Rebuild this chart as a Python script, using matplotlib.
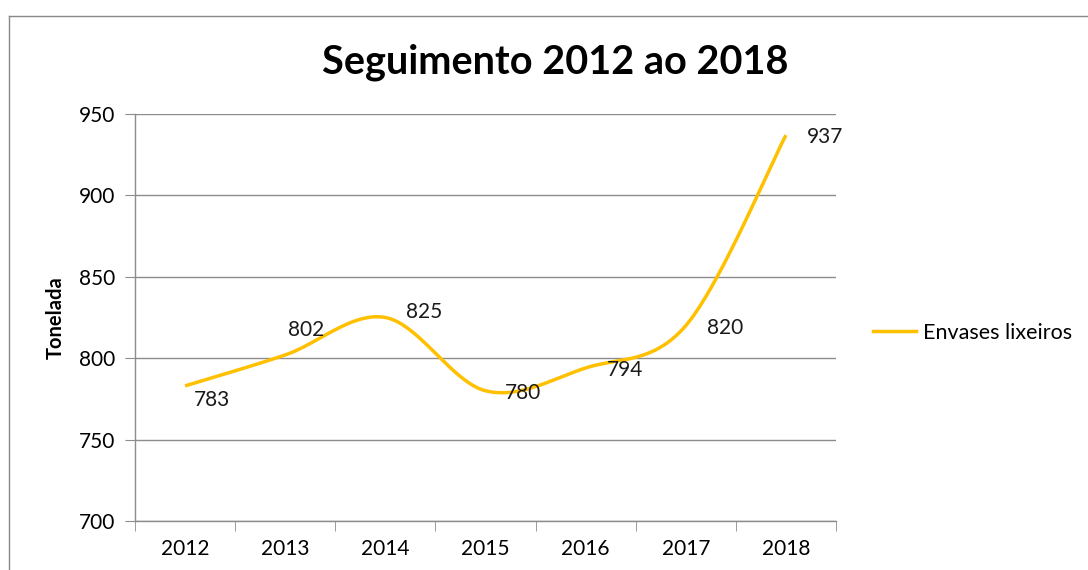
import numpy as np
import matplotlib
matplotlib.use("Agg")
import matplotlib.pyplot as plt
from matplotlib.lines import Line2D

years = ["2012", "2013", "2014", "2015", "2016", "2017", "2018"]
values = [783, 802, 825, 780, 794, 820, 937]
series_name = "Envases lixeiros"
title = "Seguimento 2012 ao 2018"
ylabel = "Tonelada"
yticks = [700, 750, 800, 850, 900, 950]

# label offsets (points) relative to each data point
label_offsets = [(6, -10), (2, 18), (15, 4), (14, -1.5), (15, -1.5), (15, -1.5), (15, -1.5)]

FONT = "Lato"
COLOR = "#FFC000"
GRID = "#8C8C8C"
FS = 15

fig = plt.figure(figsize=(10.88, 5.70), dpi=100)
ax = fig.add_axes([135/1088, 1-521/570, 701/1088, 407/570])

x = np.arange(len(values), dtype=float)
y = np.array(values, dtype=float)

# Excel-style smoothing (Catmull-Rom Bezier segments)
def smooth(xp, yp, n=40):
    px = np.concatenate([[xp[0]], xp, [xp[-1]]])
    py = np.concatenate([[yp[0]], yp, [yp[-1]]])
    xs, ys = [], []
    for i in range(1, len(px) - 2):
        p0 = np.array([px[i], py[i]])
        p3 = np.array([px[i+1], py[i+1]])
        p1 = p0 + (np.array([px[i+1], py[i+1]]) - np.array([px[i-1], py[i-1]])) / 6
        p2 = p3 - (np.array([px[i+2], py[i+2]]) - np.array([px[i], py[i]])) / 6
        t = np.linspace(0, 1, n)[:, None]
        b = (1-t)**3*p0 + 3*(1-t)**2*t*p1 + 3*(1-t)*t**2*p2 + t**3*p3
        xs.append(b[:, 0]); ys.append(b[:, 1])
    return np.concatenate(xs), np.concatenate(ys)

sx, sy = smooth(x, y)
ax.plot(sx, sy, color=COLOR, lw=2.5, solid_capstyle="butt", zorder=3)

for xi, yi, v, off in zip(x, y, values, label_offsets):
    ax.annotate(str(v), (xi, yi), xytext=off, textcoords="offset points",
                ha="left", va="center", fontsize=FS, family=FONT, color="#1a1a1a")

ax.set_xlim(-0.5, len(values) - 0.5)
ax.set_ylim(700, 950)
ax.set_yticks(yticks)
ax.set_yticklabels([str(t) for t in yticks], family=FONT, fontsize=FS)
ax.set_xticks(x)
ax.set_xticklabels(years, family=FONT, fontsize=FS)
ax.tick_params(axis="x", length=0, pad=13)
ax.set_xticks(np.arange(-0.5, len(values)), minor=True)
ax.tick_params(axis="x", which="minor", length=7, color=GRID, direction="out")
ax.tick_params(axis="y", length=7, color=GRID, direction="out", pad=7)
ax.grid(axis="y", color=GRID, lw=1)
ax.set_axisbelow(True)
for s in ["top", "right"]:
    ax.spines[s].set_visible(False)
for s in ["left", "bottom"]:
    ax.spines[s].set_color(GRID)
    ax.spines[s].set_linewidth(1)

fig.text(56/1088, 1-318/570, ylabel, rotation=90, ha="center", va="center",
         family=FONT, fontweight="bold", fontsize=14.5)
fig.text(555/1088, 1-62/570, title, ha="center", va="center",
         family=FONT, fontweight="bold", fontsize=28.5)

leg = fig.legend(handles=[Line2D([], [], color=COLOR, lw=2.5)], labels=[series_name],
                 loc="center left", bbox_to_anchor=(873/1088, 1-333/570), frameon=False,
                 borderaxespad=0, borderpad=0,
                 prop={"family": FONT, "size": 15.5}, handlelength=2.0, handletextpad=0.3)

# outer chart border
fig.add_artist(Line2D([9/1088, 9/1088], [0, 1-16/570], transform=fig.transFigure, color="#888888", lw=1))
fig.add_artist(Line2D([9/1088, 1], [1-16/570, 1-16/570], transform=fig.transFigure, color="#888888", lw=1))

fig.savefig("out.png", dpi=100)
